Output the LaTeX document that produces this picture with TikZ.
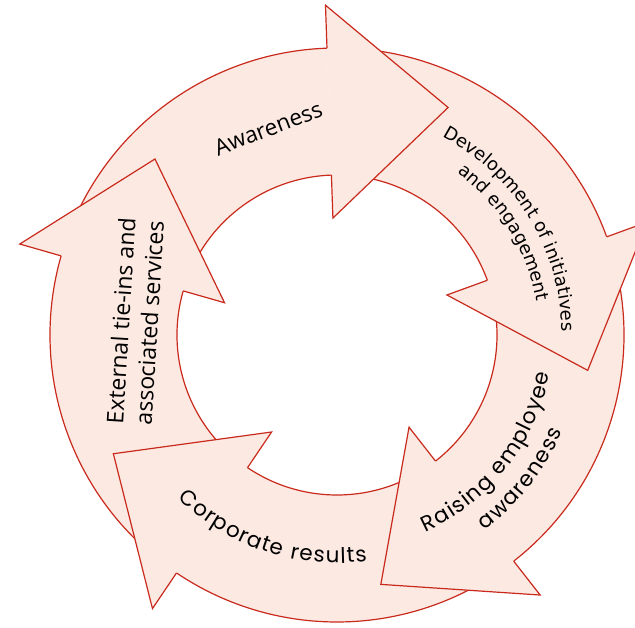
\documentclass[tikz,border=0pt]{standalone}
\usepackage{fontspec}
\usetikzlibrary{calc,decorations.text}
\newfontfamily\fontOS{Open Sans}
\newfontfamily\fontDV{DejaVu Sans}
\newfontfamily\fontPP{Poppins}
\definecolor{ringfill}{RGB}{251,233,226}
\definecolor{ringline}{RGB}{202,42,28}
\tikzset{
  bandfill/.style={fill=ringfill},
  edgeline/.style={draw=ringline, line width=1.2pt, line join=miter},
  lbl/.style={text=black, inner sep=0pt},
  geotext/.style={decorate, decoration={text effects along path, text={#1}, text align=center,
     text effects/.cd, text along path,
     characters={text=black, font=\fontPP\fontsize{21.5}{26}\selectfont, inner xsep=0.6pt}}},
  devtext/.style={decorate, decoration={text effects along path, text={#1}, text align=center,
     text effects/.cd, text along path,
     characters={text=black, font=\fontDV\fontsize{18}{22}\selectfont, inner xsep=0.05pt}}},
}
\begin{document}
\begin{tikzpicture}[x=1pt,y=1pt]
\useasboundingbox (0,0) rectangle (635,627);
\clip (0,0) rectangle (635,627);
\begin{scope}[shift={(337pt,292pt)}]
  % bands
  \foreach \ba in {92,20,-52,-124,-196}{
    \pgfmathsetmacro{\sa}{\ba+72}
    \fill[bandfill] (\sa:287pt) arc[start angle=\sa, end angle=\ba, radius=287pt]
      -- (\ba:160pt) arc[start angle=\ba, end angle=\sa, radius=160pt] -- cycle;
    \draw[edgeline] (\sa:287pt) arc[start angle=\sa, end angle=\ba, radius=287pt];
    \draw[edgeline] (\ba:160pt) arc[start angle=\ba, end angle=\sa, radius=160pt];
  }
  % arrow heads
  \foreach \ba in {92,20,-52,-124,-196}{
    \pgfmathsetmacro{\ta}{\ba-90}
    \coordinate (tip) at ($(\ba:223.5pt)+(\ta:119pt)$);
    \fill[bandfill] (\ba:330pt) -- (tip) -- (\ba:117pt) -- cycle;
    \draw[edgeline] (\ba:287pt) -- (\ba:330pt) -- (tip) -- (\ba:117pt) -- (\ba:160pt);
  }
  % labels
  \node[lbl, rotate=21, font=\fontOS\fontsize{22.5}{27}\selectfont] (aw) at (-68.7pt,206.7pt) {Awareness};
  \node[lbl, rotate=86.5, align=center, font=\fontOS\fontsize{23}{28.5}\selectfont] (ext) at (-202pt,13pt) {External tie-ins and\\associated services};
  \path[devtext={Development of initiatives}]
     (91.5:225pt) arc[start angle=91.5, end angle=-28.5, radius=225pt];
  \path[devtext={and engagement}]
     (91.5:202pt) arc[start angle=91.5, end angle=-28.5, radius=202pt];
  \path[geotext={Raising employee}]
     (-98:216pt) arc[start angle=-98, end angle=22, radius=216pt];
  \path[geotext={awareness}]
     (-98:245pt) arc[start angle=-98, end angle=22, radius=245pt];
  \path[geotext={Corporate results}]
     (191.7:228pt) arc[start angle=191.7, end angle=311.7, radius=228pt];
\end{scope}
\end{tikzpicture}
\end{document}
